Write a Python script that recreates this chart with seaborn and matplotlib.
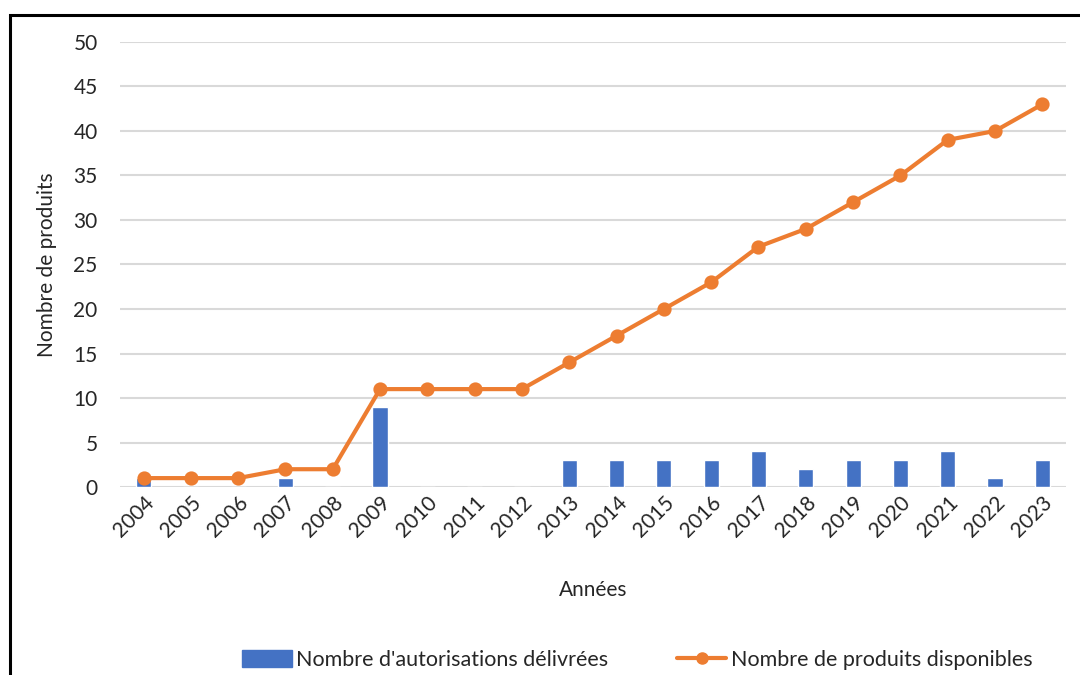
import matplotlib
matplotlib.use("Agg")
import matplotlib.pyplot as plt
import matplotlib.patches as mpatches
from matplotlib.lines import Line2D
import seaborn as sns
import pandas as pd

# Values
annees = [str(y) for y in range(2004, 2024)]
autorisations = [1, 0, 0, 1, 0, 9, 0, 0, 0, 3, 3, 3, 3, 4, 2, 3, 3, 4, 1, 3]
produits = [1, 1, 1, 2, 2, 11, 11, 11, 11, 14, 17, 20, 23, 27, 29, 32, 35, 39, 40, 43]

bar_label = "Nombre d'autorisations délivrées"
line_label = "Nombre de produits disponibles"
blue = "#4472C4"
orange = "#ED7D31"

df = pd.DataFrame({"annee": annees, "autorisations": autorisations, "produits": produits})

sns.set_style("white")
plt.rcParams["font.family"] = ["Lato", "DejaVu Sans"]
text_col = "#262626"
fs = 15

fig = plt.figure(figsize=(10.8, 6.75), dpi=100)
ax = fig.add_axes([0.111, 0.2785, 0.876, 0.6593])

sns.barplot(data=df, x="annee", y="autorisations", color=blue, width=0.32,
            saturation=1, ax=ax, zorder=2)
sns.pointplot(data=df, x="annee", y="produits", color=orange, markers="o",
              linewidth=3, markersize=8, ax=ax, zorder=3)

ax.set_ylim(0, 50)
ax.set_yticks(range(0, 51, 5))
ax.set_xlim(-0.5, len(annees) - 0.5)
ax.grid(axis="y", color="#D9D9D9", linewidth=1.5, zorder=0)
ax.set_axisbelow(True)
for s in ax.spines.values():
    s.set_visible(False)
ax.tick_params(axis="both", length=0, labelsize=fs, labelcolor=text_col)
ax.tick_params(axis="y", pad=16)
ax.tick_params(axis="x", pad=4)
plt.setp(ax.get_xticklabels(), rotation=45, ha="right", rotation_mode="anchor")
ax.set_xlabel("Années", fontsize=fs, color=text_col, labelpad=28)
ax.set_ylabel("Nombre de produits", fontsize=fs, color=text_col, labelpad=12)

handles = [mpatches.Patch(color=blue, label=bar_label),
           Line2D([0], [0], color=orange, lw=3, marker="o", markersize=8, label=line_label)]
fig.legend(handles=handles, loc="center", bbox_to_anchor=(0.59, 0.022), ncol=2,
           frameon=False, fontsize=15.5, labelcolor=text_col, handlelength=2.3,
           handleheight=0.8, handletextpad=0.2, columnspacing=3.2)

# outer chart border (cropped on right and bottom)
fig.patches.append(mpatches.Rectangle((10 / 1080, -0.2), 1.3, 1.2 - 15 / 675,
                                      transform=fig.transFigure, fill=False,
                                      edgecolor="black", linewidth=2.2))

fig.savefig("out.png", dpi=100)
